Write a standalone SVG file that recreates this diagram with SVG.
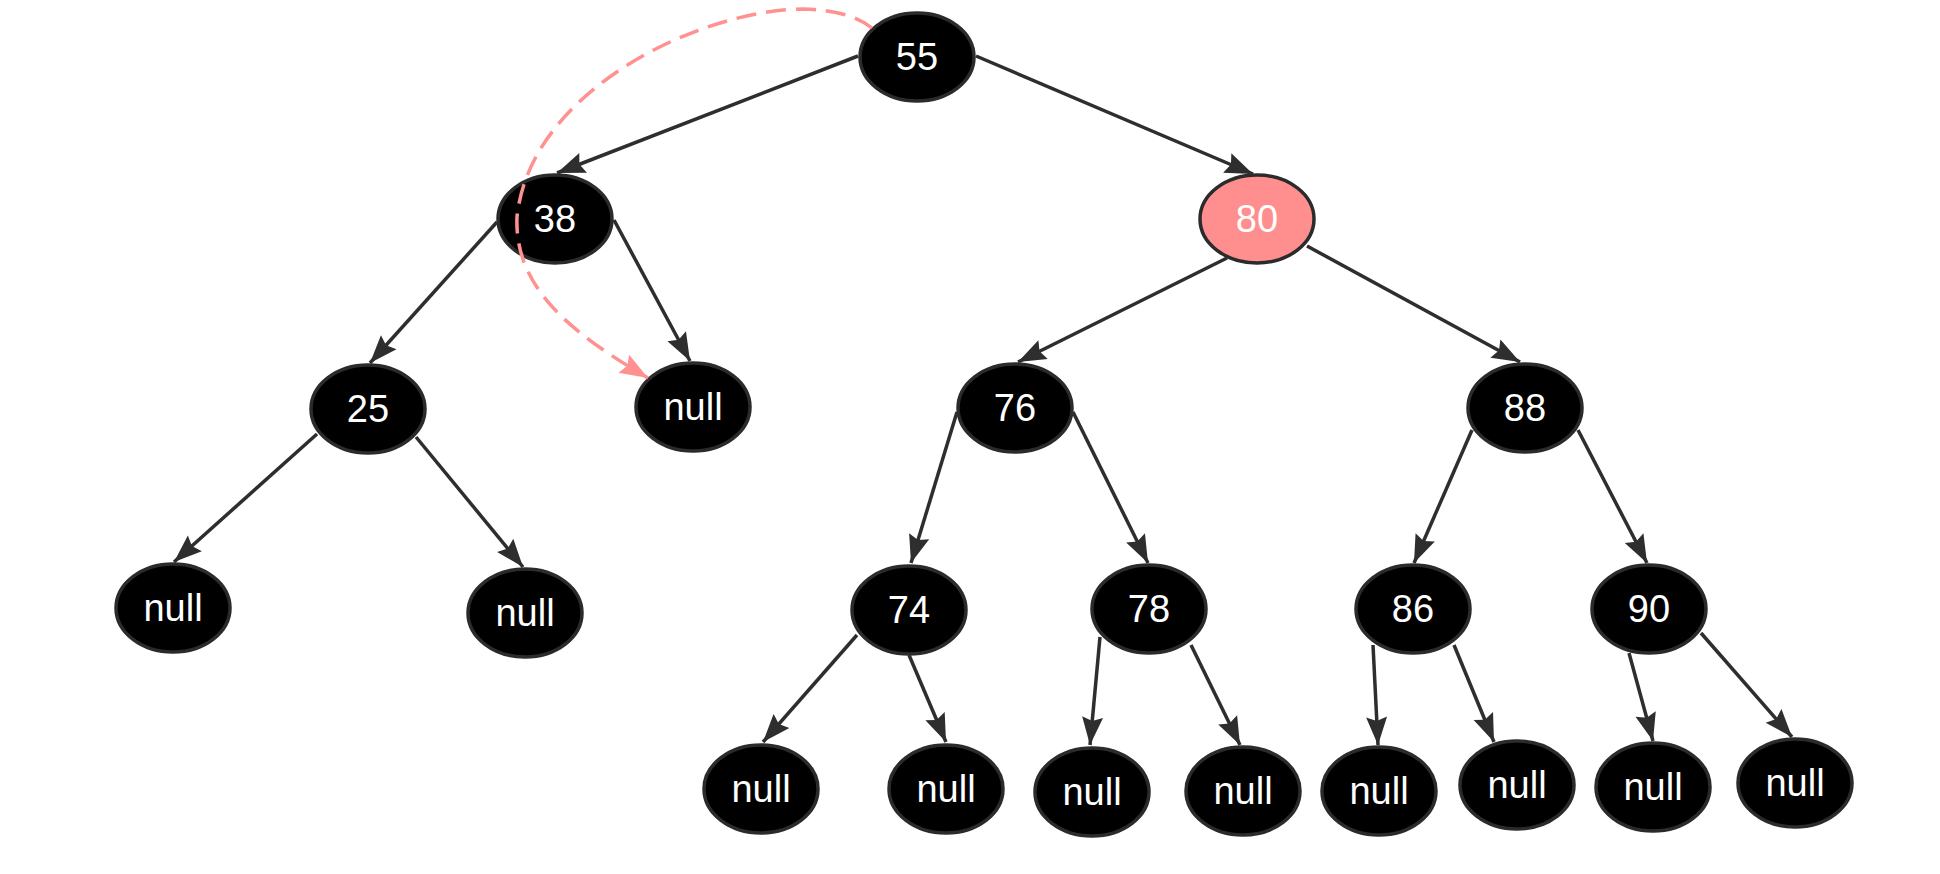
<svg xmlns="http://www.w3.org/2000/svg" width="1940" height="874" viewBox="0 0 1940 874">
  <style>
    .node ellipse { fill: #000000; stroke: #2b2b2b; stroke-width: 3.5; }
    .node.red ellipse { fill: #ff8f8f; }
    .node text { fill: #ffffff; font-family: "Liberation Sans", Arial, sans-serif; font-size: 38px; text-anchor: middle; }
    .edge { stroke: #2e2e2e; stroke-width: 3.5; fill: none; marker-end: url(#arr); }
    .dash { stroke: #ff9191; stroke-width: 3.5; fill: none; stroke-dasharray: 20 10; marker-end: url(#arrPink); }
  </style>
  <defs>
    <marker id="arr" markerUnits="userSpaceOnUse" viewBox="-30 -12 32 24" refX="0" refY="0" markerWidth="32" markerHeight="24" orient="auto">
      <path d="M0,0 L-28,-10.5 L-24,0 L-28,10.5 Z" fill="#2e2e2e"/>
    </marker>
    <marker id="arrPink" markerUnits="userSpaceOnUse" viewBox="-30 -12 32 24" refX="0" refY="0" markerWidth="32" markerHeight="24" orient="auto">
      <path d="M0,0 L-28,-10.5 L-24,0 L-28,10.5 Z" fill="#ff9191"/>
    </marker>
  </defs>
  <rect width="1940" height="874" fill="#ffffff"/>

  <g id="n55" class="node"><ellipse cx="917" cy="57" rx="57" ry="44"/><text x="917" y="70">55</text></g>
  <g id="n38" class="node"><ellipse cx="555" cy="219" rx="57" ry="44"/><text x="555" y="232">38</text></g>
  <g id="n80" class="node red"><ellipse cx="1257" cy="219" rx="57" ry="44"/><text x="1257" y="232">80</text></g>
  <g id="n25" class="node"><ellipse cx="368" cy="409" rx="57" ry="44"/><text x="368" y="422">25</text></g>
  <g id="null38" class="node"><ellipse cx="693" cy="407" rx="57" ry="44"/><text x="693" y="420">null</text></g>
  <g id="n76" class="node"><ellipse cx="1015" cy="408" rx="57" ry="44"/><text x="1015" y="421">76</text></g>
  <g id="n88" class="node"><ellipse cx="1525" cy="408" rx="57" ry="44"/><text x="1525" y="421">88</text></g>
  <g id="null25L" class="node"><ellipse cx="173" cy="608" rx="57" ry="44"/><text x="173" y="621">null</text></g>
  <g id="null25R" class="node"><ellipse cx="525" cy="613" rx="57" ry="44"/><text x="525" y="626">null</text></g>
  <g id="n74" class="node"><ellipse cx="909" cy="610" rx="57" ry="44"/><text x="909" y="623">74</text></g>
  <g id="n78" class="node"><ellipse cx="1149" cy="609" rx="57" ry="44"/><text x="1149" y="622">78</text></g>
  <g id="n86" class="node"><ellipse cx="1413" cy="609" rx="57" ry="44"/><text x="1413" y="622">86</text></g>
  <g id="n90" class="node"><ellipse cx="1649" cy="609" rx="57" ry="44"/><text x="1649" y="622">90</text></g>
  <g id="null74L" class="node"><ellipse cx="761" cy="789" rx="57" ry="44"/><text x="761" y="802">null</text></g>
  <g id="null74R" class="node"><ellipse cx="946" cy="789" rx="57" ry="44"/><text x="946" y="802">null</text></g>
  <g id="null78L" class="node"><ellipse cx="1092" cy="792" rx="57" ry="44"/><text x="1092" y="805">null</text></g>
  <g id="null78R" class="node"><ellipse cx="1243" cy="791" rx="57" ry="44"/><text x="1243" y="804">null</text></g>
  <g id="null86L" class="node"><ellipse cx="1379" cy="791" rx="57" ry="44"/><text x="1379" y="804">null</text></g>
  <g id="null86R" class="node"><ellipse cx="1517" cy="785" rx="57" ry="44"/><text x="1517" y="798">null</text></g>
  <g id="null90L" class="node"><ellipse cx="1653" cy="787" rx="57" ry="44"/><text x="1653" y="800">null</text></g>
  <g id="null90R" class="node"><ellipse cx="1795" cy="783" rx="57" ry="44"/><text x="1795" y="796">null</text></g>

  <g id="connectors">
    <line class="edge" x1="858" y1="56" x2="557" y2="173"/>
    <line class="edge" x1="976" y1="56" x2="1253" y2="174"/>
    <line class="edge" x1="497" y1="222" x2="370" y2="363"/>
    <line class="edge" x1="614" y1="220" x2="690" y2="361"/>
    <line class="edge" x1="1227" y1="258" x2="1018" y2="362"/>
    <line class="edge" x1="1307" y1="246" x2="1520" y2="362"/>
    <line class="edge" x1="317" y1="434" x2="174" y2="562"/>
    <line class="edge" x1="416" y1="437" x2="523" y2="567"/>
    <line class="edge" x1="957" y1="412" x2="911" y2="563"/>
    <line class="edge" x1="1073" y1="412" x2="1148" y2="563"/>
    <line class="edge" x1="1472" y1="430" x2="1414" y2="563"/>
    <line class="edge" x1="1578" y1="430" x2="1647" y2="563"/>
    <line class="edge" x1="857" y1="635" x2="763" y2="742"/>
    <line class="edge" x1="909" y1="655" x2="946" y2="742"/>
    <line class="edge" x1="1100" y1="637" x2="1090" y2="745"/>
    <line class="edge" x1="1191" y1="645" x2="1240" y2="745"/>
    <line class="edge" x1="1373" y1="645" x2="1378" y2="745"/>
    <line class="edge" x1="1454" y1="645" x2="1494" y2="742"/>
    <line class="edge" x1="1629" y1="653" x2="1653" y2="741"/>
    <line class="edge" x1="1701" y1="633" x2="1792" y2="737"/>
    <path class="dash" d="M872,28 Q850,10 803,9 C700,10 530,90 517,217 C514,290 575,335 648,378"/>
  </g>
</svg>
